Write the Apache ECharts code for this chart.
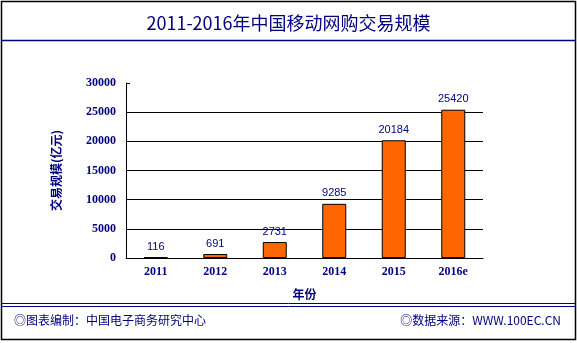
<!DOCTYPE html>
<html>
<head>
<meta charset="utf-8">
<script src="https://cdn.jsdelivr.net/npm/echarts@6/dist/echarts.min.js"></script>
<style>html,body{margin:0;padding:0;background:#fff}#c{width:577px;height:343px}</style>
</head>
<body>
<div id="c"></div>
<script>
const categories = ['2011', '2012', '2013', '2014', '2015', '2016e'];
const values = [116, 691, 2731, 9285, 20184, 25420];
const yTicks = [0, 5000, 10000, 15000, 20000, 25000, 30000];
const titleText = '2011-2016年中国移动网购交易规模';
const footerLeft = '◎图表编制：中国电子商务研究中心';
const footerRight = '◎数据来源：WWW.100EC.CN';

const navy = '#000080';
const chart = echarts.init(document.getElementById('c'), null, {renderer: 'canvas'});
chart.setOption({
  animation: false,
  backgroundColor: '#fff',
  title: {
    text: titleText, left: 'center', top: 9,
    textStyle: {color: navy, fontSize: 18, fontWeight: 'normal', fontFamily: 'Noto Sans CJK SC'}
  },
  grid: {left: 126, right: 94, top: 83, bottom: 85},
  xAxis: {
    type: 'category', data: categories,
    name: '年份', nameLocation: 'middle', nameGap: 30,
    nameTextStyle: {color: navy, fontSize: 12, fontWeight: 'bold', fontFamily: 'Noto Sans CJK SC'},
    axisLine: {lineStyle: {color: '#000', width: 1}},
    axisTick: {inside: true, length: 5, lineStyle: {color: '#000'}},
    axisLabel: {color: navy, fontSize: 12, fontWeight: 'bold', fontFamily: 'Liberation Serif', margin: 8}
  },
  yAxis: {
    type: 'value', min: yTicks[0], max: yTicks[yTicks.length - 1], interval: yTicks[1] - yTicks[0],
    name: '交易规模(亿元)', nameLocation: 'middle', nameGap: 64, nameRotate: 90,
    nameTextStyle: {color: navy, fontSize: 12, fontWeight: 'bold', fontFamily: 'Noto Sans CJK SC'},
    axisLine: {show: true, lineStyle: {color: '#000', width: 1}},
    axisTick: {show: true, inside: true, length: 4, lineStyle: {color: '#000'}},
    axisLabel: {color: navy, fontSize: 12, fontWeight: 'bold', fontFamily: 'Liberation Serif', margin: 10,
      formatter: function (v) { return String(v); }},
    splitLine: {show: true, lineStyle: {color: ['#000', '#000', '#000', '#000', '#000', '#000', 'rgba(0,0,0,0)'], width: 1}}
  },
  series: [{
    type: 'bar', data: values, barWidth: 24,
    itemStyle: {color: '#FF6600', borderColor: '#000', borderWidth: 1},
    label: {show: true, position: 'top', distance: 5, color: navy, fontSize: 11, fontFamily: 'Liberation Sans'}
  }],
  graphic: [
    {type: 'rect', shape: {x: 1.5, y: 1.5, width: 574, height: 338}, style: {fill: 'none', stroke: '#000', lineWidth: 1.5}, silent: true},
    {type: 'line', shape: {x1: 1, y1: 40.5, x2: 576, y2: 40.5}, style: {stroke: navy, lineWidth: 1.5}},
    {type: 'line', shape: {x1: 1, y1: 303.5, x2: 576, y2: 303.5}, style: {stroke: navy, lineWidth: 1}},
    {type: 'line', shape: {x1: 1, y1: 306.5, x2: 576, y2: 306.5}, style: {stroke: navy, lineWidth: 1}},
    {type: 'text', left: 14, top: 314, style: {text: footerLeft, fill: navy, font: '12px "Noto Sans CJK SC"'}},
    {type: 'text', right: 16, top: 314, style: {text: footerRight, fill: navy, font: '12px "Noto Sans CJK SC"'}}
  ]
});
</script>
</body>
</html>
